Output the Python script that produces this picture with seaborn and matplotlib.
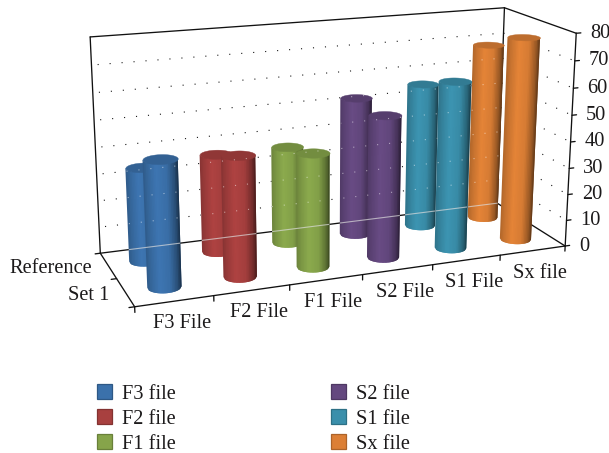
import numpy as np
import matplotlib
matplotlib.use("Agg")
import matplotlib.pyplot as plt
from matplotlib.colors import to_rgb
from matplotlib.patches import Patch
from matplotlib.path import Path
from mpl_toolkits.mplot3d.art3d import Poly3DCollection
from mpl_toolkits.mplot3d import proj3d
import seaborn as sns

# Chart data
file_ticks = ["F3 File", "F2 File", "F1 File", "S2 File", "S1 File", "Sx file"]
series_names = ["F3 file", "F2 file", "F1 file", "S2 file", "S1 file", "Sx file"]
set_names = ["Set 1", "Reference"]
set1_values = [45.5, 44, 42, 53, 63, 77]
reference_values = [35, 37, 37, 53, 56, 69]
value_ticks = [0, 10, 20, 30, 40, 50, 60, 70, 80]
series_colors = ["#3B71AB", "#A8403F", "#86A44A", "#64487F", "#3A8FAB", "#DC7F35"]

sns.set_theme(style="white", rc={"axes.grid": False})
plt.rcParams["font.family"] = ["Liberation Serif", "DejaVu Serif"]
TEXT = "#1c1a1b"
FS = 14.7

palette = sns.color_palette(series_colors)
W, H = 609, 453
ELEV, AZIM, ROLL = 15.9727, -111.3479, -0.1703

fig = plt.figure(figsize=(W / 100, H / 100), dpi=100, facecolor="white")
ax = fig.add_subplot(projection="3d", computed_zorder=False)
ax.set_position([0.1200, 0.1022, 0.8377, 1.1262])
ax.set_xlim(0, 6, view_margin=0)
ax.set_ylim(0, 2, view_margin=0)
ax.set_zlim(0, 80, view_margin=0)
ax.view_init(elev=ELEV, azim=AZIM, roll=ROLL)
ax.set_proj_type("persp", focal_length=0.4986)
ax.set_box_aspect((1, 0.3310, 0.4937))
ax.set_axis_off()
ax.patch.set_alpha(0)
ax.M = ax.get_proj()

LINE = dict(color="#111111", lw=0.95, solid_capstyle="round")
DOTS = (0, (1.0, 9.8))


def seg(p, q, **kw):
    return ax.plot([p[0], q[0]], [p[1], q[1]], [p[2], q[2]], **kw)[0]


def to_screen(x, y, z):
    px, py, _ = proj3d.proj_transform(np.asarray(x, float), np.asarray(y, float), np.asarray(z, float), ax.M)
    return np.asarray(px), np.asarray(py)


def convex_hull(points):
    pts = sorted(map(tuple, points))

    def half(seq):
        out = []
        for p in seq:
            while len(out) > 1 and ((out[-1][0] - out[-2][0]) * (p[1] - out[-2][1])
                                    - (out[-1][1] - out[-2][1]) * (p[0] - out[-2][0])) <= 0:
                out.pop()
            out.append(p)
        return out[:-1]

    return np.array(half(pts) + half(pts[::-1]))


# Wall and floor frame
for p, q in [((0, 2, 80), (6, 2, 80)), ((0, 2, 0), (0, 2, 80)), ((6, 2, 0), (6, 2, 80)),
             ((6, 2, 80), (6, 0, 80)), ((6, 0, 0), (6, 0, 80)), ((0, 2, 0), (6, 2, 0)),
             ((6, 2, 0), (6, 0, 0)), ((0, 0, 0), (6, 0, 0)), ((0, 0, 0), (0, 2, 0))]:
    seg(p, q, zorder=2, **LINE)

# Dotted value gridlines on the back and right walls
for v in value_ticks[1:-1]:
    for p, q in [((0.08, 2, v), (6, 2, v)), ((6, 2, v), (6, 0, v))]:
        seg(p, q, color="#1a1a1a", lw=0.8, ls=DOTS, zorder=1)

# Tick marks
for i in range(7):
    seg((i, 0, 0), (i, 0, -2.0), zorder=2, **LINE)
for j in range(3):
    seg((0, j, 0), (-0.07, j, 0), zorder=2, **LINE)
for v in value_ticks:
    seg((6, 0, v), (6.07, 0, v), zorder=2, **LINE)

outlines = []


def cylinder(x0, y0, height, color, zorder, radius=0.215, strips=22):
    ring_t = np.linspace(0, 2 * np.pi, 361)
    rx = x0 + radius * np.cos(ring_t)
    ry = y0 + radius * np.sin(ring_t)
    bx, by = to_screen(rx, ry, np.zeros_like(rx))
    tx, ty = to_screen(rx, ry, np.full_like(rx, height))
    outlines.append(convex_hull(np.c_[np.r_[bx, tx], np.r_[by, ty]]))

    # Silhouette angles of this cylinder, then strips of equal width on screen
    th_left = ring_t[np.argmin(bx)]
    th_right = ring_t[np.argmax(bx)]
    if th_right < th_left:
        th_right += 2 * np.pi
    u = np.linspace(-1, 1, strips + 1)
    theta = 0.5 * (th_left + th_right) + np.arcsin(u) / np.pi * (th_right - th_left)
    X = x0 + radius * np.cos(theta)
    Y = y0 + radius * np.sin(theta)

    mids = 0.5 * (u[:-1] + u[1:])
    gain = np.interp(mids, [-1.0, -0.75, -0.25, 0.35, 0.8, 1.0], [0.80, 0.90, 1.04, 0.97, 0.68, 0.42])
    base = np.array(to_rgb(color))

    # Each strip reaches under its right-hand neighbour, which is painted after it,
    # so no seam shows between neighbouring shades
    for k in range(strips):
        end = min(k + 2, strips)
        lower = [(X[m], Y[m], 0) for m in range(k, end + 1)]
        upper = [(X[m], Y[m], height) for m in range(end, k - 1, -1)]
        shade = np.clip(base * gain[k], 0, 1)
        ax.add_collection3d(Poly3DCollection([lower + upper], facecolor=shade, edgecolor="none",
                                             linewidth=0, zorder=zorder + k / (2 * strips)))
    cap_color = np.clip(base * 0.86, 0, 1)
    ring = np.c_[rx, ry, np.full_like(rx, height)]
    ax.add_collection3d(Poly3DCollection([ring], facecolor=cap_color, edgecolor=cap_color, linewidth=0.3,
                                         zorder=zorder + 0.7))


# Cylinders, painted from farthest to nearest
marks = []
for row, values in enumerate([set1_values, reference_values]):
    for c, v in enumerate(values):
        marks.append((c + 0.5, row + 0.5, v, palette[c]))
az_r = np.deg2rad(AZIM)
marks.sort(key=lambda m: m[0] / 6 * np.cos(az_r) + m[1] / 2 * 0.331 * np.sin(az_r))
for n, (x0, y0, v, col) in enumerate(marks):
    cylinder(x0, y0, v, col, 3 + n)

# Floor edge and gridlines showing faintly through the cylinders only
through = Path.make_compound_path(*[Path(np.r_[o, o[:1]], closed=True) for o in outlines])
ghosts = [seg((0, 2, 0), (6, 2, 0), color="#dcdcdc", lw=0.8, alpha=0.7, zorder=40)]
for v in value_ticks[1:-1]:
    ghosts.append(seg((0.08, 2, v), (6, 2, v), color="white", lw=0.8, ls=DOTS, alpha=0.5, zorder=40))
for g in ghosts:
    g.set_clip_path(through, ax.transData)


def anchor(x, y, z):
    px, py = to_screen(x, y, z)
    return float(px), float(py)


OFF = 72 / 100  # pixels to points
for i, lab in enumerate(file_ticks):
    ax.annotate(lab, anchor(i + 0.5, 0, 0), xytext=(7 * OFF, -22.5 * OFF), textcoords="offset points",
                ha="center", va="center", fontsize=FS, color=TEXT)
for j, lab in enumerate(set_names):
    ax.annotate(lab, anchor(0, j + 0.5, 0), xytext=(-16 * OFF, -3 * OFF), textcoords="offset points",
                ha="right", va="center", fontsize=FS, color=TEXT)
for v in value_ticks:
    ax.annotate(str(v), anchor(6, 0, v), xytext=(14 * OFF, 0), textcoords="offset points",
                ha="left", va="center", fontsize=FS, color=TEXT)

handles = [Patch(facecolor=c, edgecolor=tuple(np.array(c) * 0.78), linewidth=0.9) for c in palette]
fig.legend(handles, series_names, ncols=2, loc="lower left", bbox_to_anchor=(81 / W, -17 / H),
           frameon=False, fontsize=FS, labelcolor=TEXT, handlelength=0.72, handleheight=0.72,
           handletextpad=0.5, columnspacing=7.6, labelspacing=0.27, borderpad=0.3)

fig.savefig("out.png", dpi=100, facecolor="white")
